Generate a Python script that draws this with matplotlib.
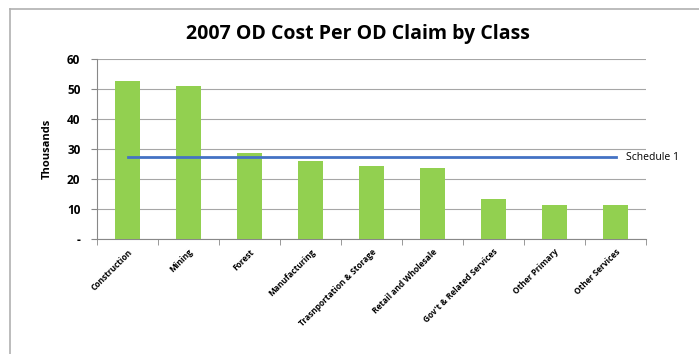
import matplotlib
matplotlib.use("Agg")
import matplotlib.pyplot as plt
from matplotlib.lines import Line2D

categories = ["Construction", "Mining", "Forest", "Manufacturing",
              "Trasnportation & Storage", "Retail and Wholesale",
              "Gov't & Related Services", "Other Primary", "Other Services"]
values = [52.7, 51.1, 28.6, 26.1, 24.2, 23.6, 13.2, 11.2, 11.2]
schedule1 = 27.2
yticks = [0, 10, 20, 30, 40, 50, 60]
ytick_labels = ["-", "10", "20", "30", "40", "50", "60"]

plt.rcParams['font.family'] = ['Open Sans', 'DejaVu Sans']

fig = plt.figure(figsize=(6.99, 3.54), dpi=100)
bx, by = 9.5/699, 1 - 8.5/354
fig.lines.append(Line2D([bx, bx], [0, by], transform=fig.transFigure, color='#b0b0b0', linewidth=1.2))
fig.lines.append(Line2D([bx, 1], [by, by], transform=fig.transFigure, color='#b0b0b0', linewidth=1.2))

ax = fig.add_axes([97/699, 1 - 239/354, 549/699, 180/354])
x = list(range(len(categories)))
ax.bar(x, values, width=0.4, color='#92D050', zorder=3)
ax.plot([x[0], x[-1]], [schedule1, schedule1], color='#4472C4', linewidth=2, zorder=4)
ax.text(x[-1] + 0.18, schedule1, "Schedule 1", va='center', ha='left', fontsize=7.5)

ax.set_xlim(-0.5, len(categories) - 0.5)
ax.set_ylim(0, 60)
ax.set_yticks(yticks)
ax.set_yticklabels(ytick_labels, fontsize=8.5, fontweight='bold')
ax.yaxis.grid(True, color='#a6a6a6', linewidth=0.8, zorder=0)
ax.set_xticks(x)
ax.set_xticklabels(categories, rotation=45, ha='right', rotation_mode='anchor',
                   fontsize=6, fontweight='bold')
ax.tick_params(axis='x', length=0, pad=6)
ax.set_xticks([i - 0.5 for i in range(len(categories) + 1)], minor=True)
ax.tick_params(axis='x', which='minor', length=4, color='#888888')
ax.tick_params(axis='y', length=4, color='#888888', pad=8)
for s in ['top', 'right']:
    ax.spines[s].set_visible(False)
for s in ['left', 'bottom']:
    ax.spines[s].set_color('#888888')
ax.set_ylabel("Thousands", fontsize=8, fontweight='bold', labelpad=10)

fig.text(358/699, 1 - 34/354, "2007 OD Cost Per OD Claim by Class", ha='center', va='center',
         fontsize=14, fontweight='bold')

fig.savefig("out.png", dpi=100)
